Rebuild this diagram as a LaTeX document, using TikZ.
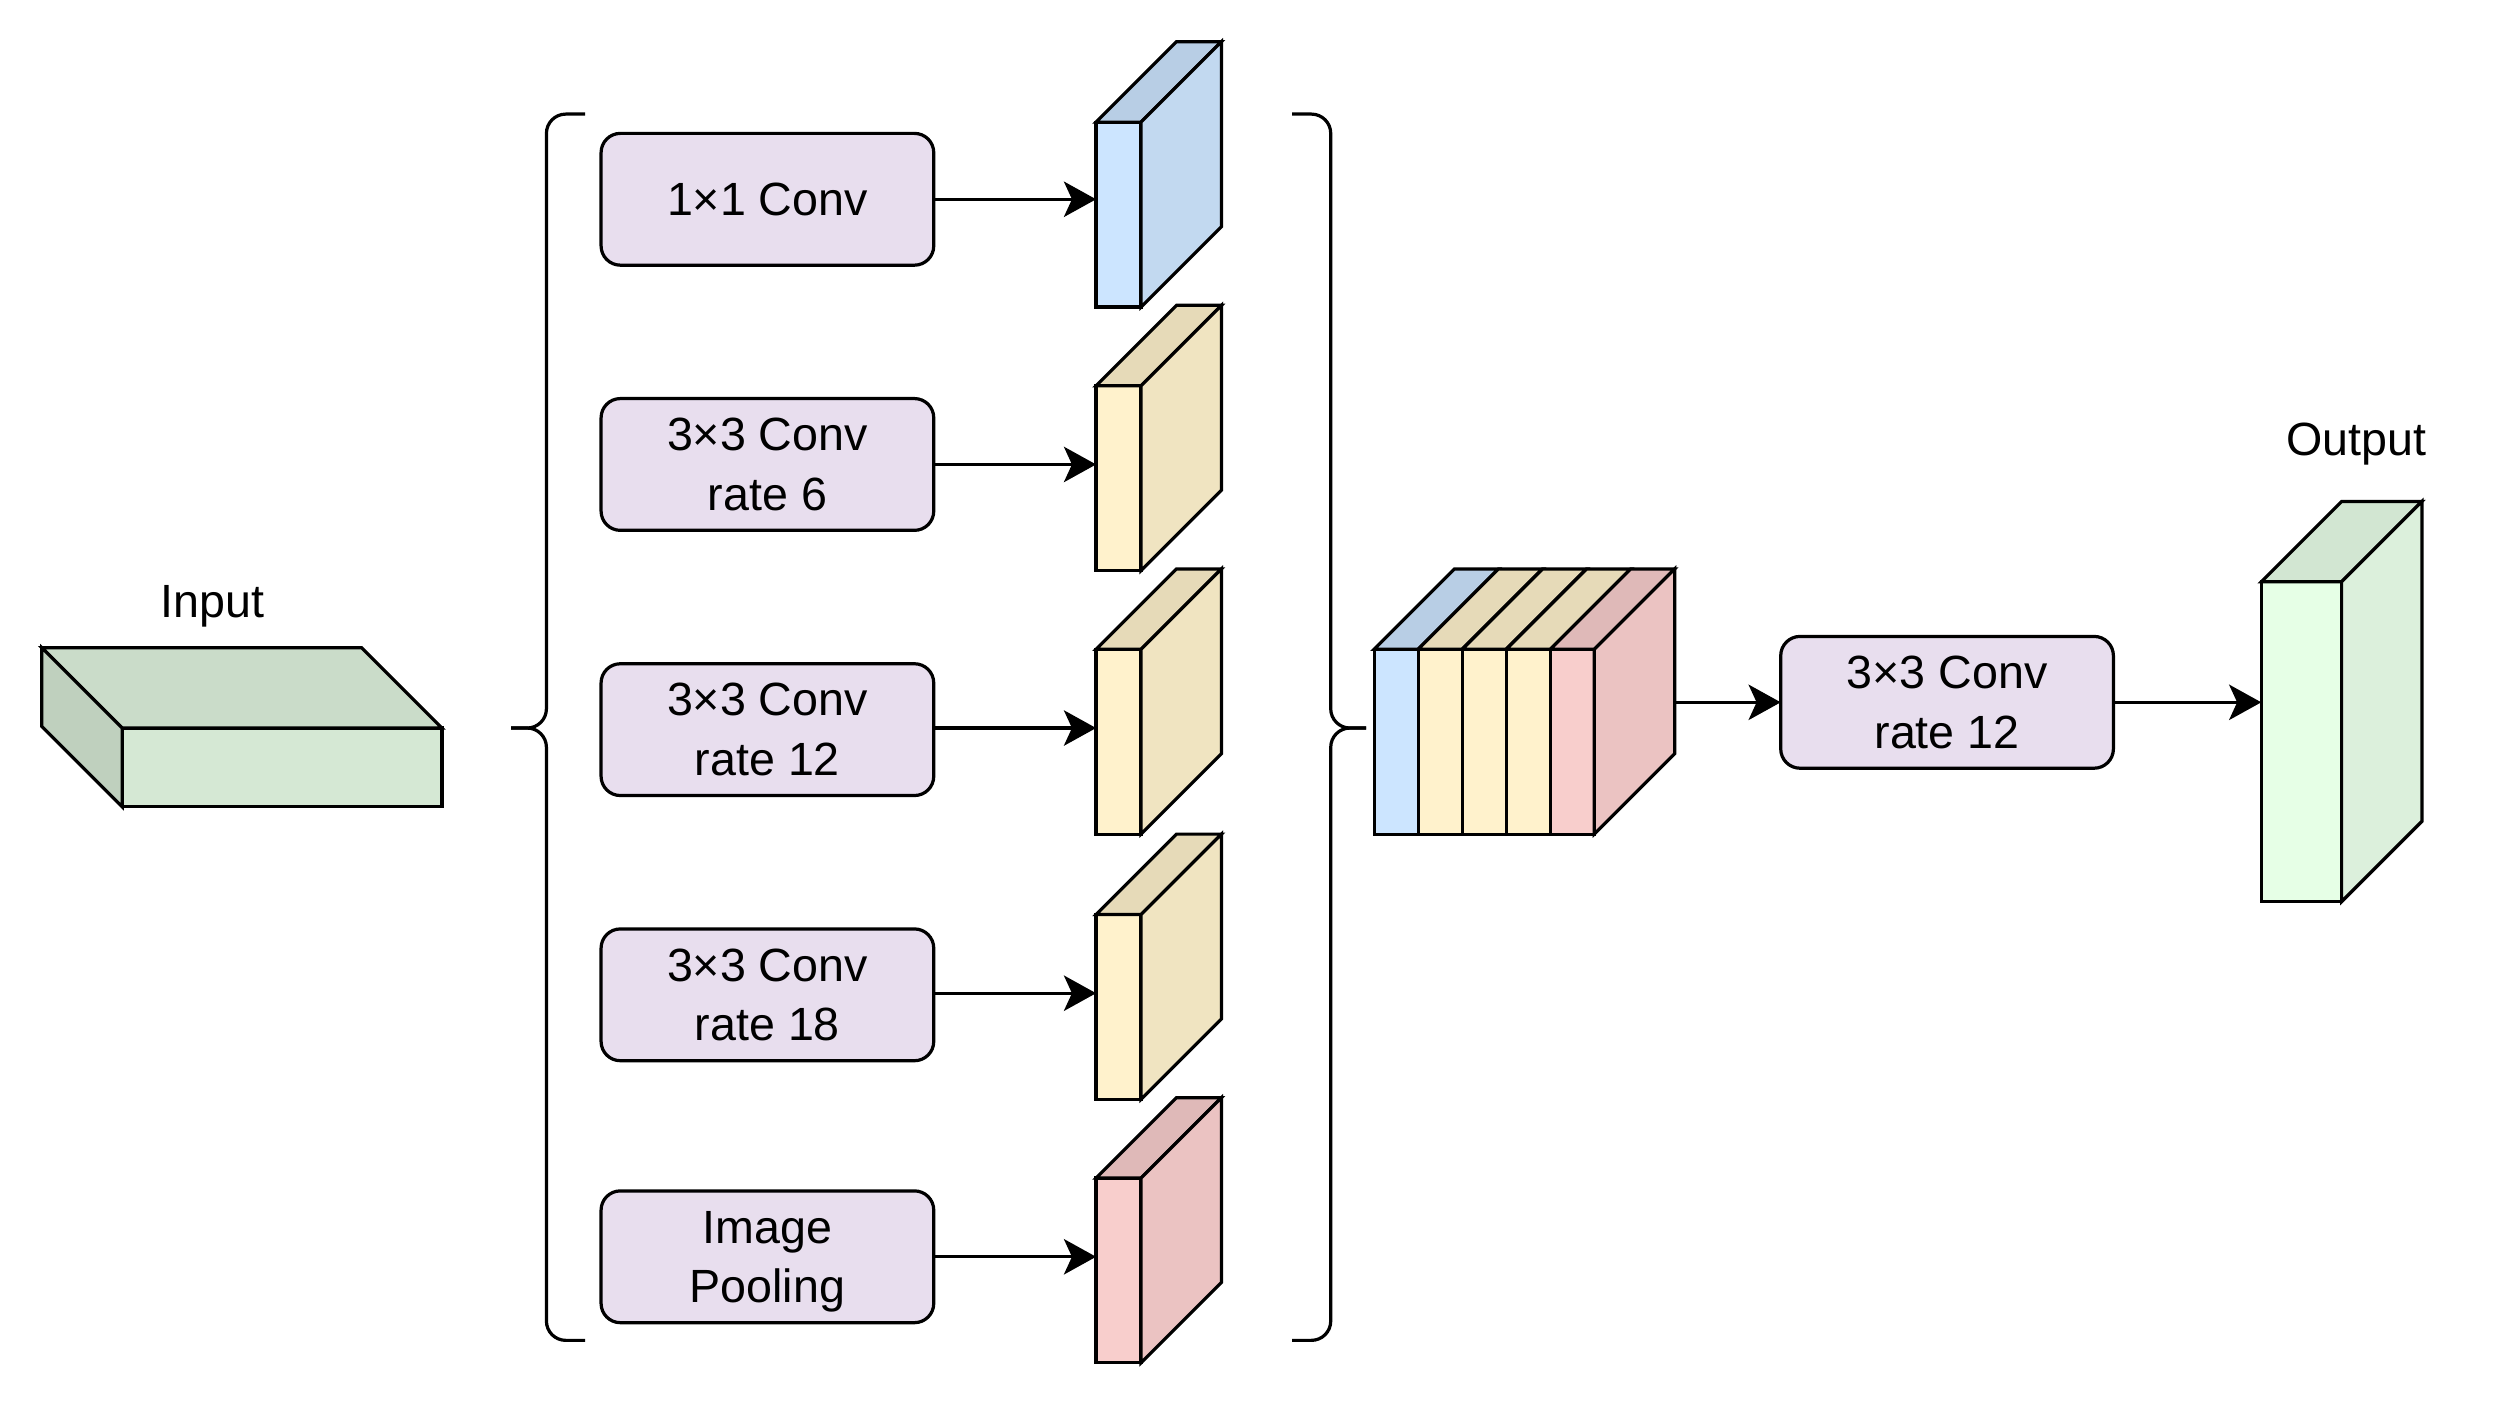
\documentclass[tikz,border=0pt]{standalone}
\usepackage{fontspec}
\setmainfont{Liberation Sans}
\usetikzlibrary{arrows.meta}

\definecolor{boxfill}{RGB}{232,222,238}
\definecolor{blueF}{RGB}{204,229,255}
\definecolor{blueT}{RGB}{184,206,229}
\definecolor{blueS}{RGB}{194,217,240}
\definecolor{yelF}{RGB}{255,242,204}
\definecolor{yelT}{RGB}{230,218,184}
\definecolor{yelS}{RGB}{240,228,193}
\definecolor{pinkF}{RGB}{248,206,204}
\definecolor{pinkT}{RGB}{223,185,184}
\definecolor{pinkS}{RGB}{235,195,194}
\definecolor{grnF}{RGB}{213,232,212}
\definecolor{grnT}{RGB}{202,220,201}
\definecolor{grnS}{RGB}{191,208,190}
\definecolor{outF}{RGB}{230,255,230}
\definecolor{outT}{RGB}{210,230,210}
\definecolor{outS}{RGB}{220,240,220}

\tikzset{
  face/.style={draw=black, line width=2pt, line join=miter, inner sep=0pt, outer sep=0pt},
  conv/.style={draw=black, line width=2pt, rounded corners=12pt, fill=boxfill,
    minimum width=207pt, minimum height=82pt, inner sep=0pt, outer sep=0pt, align=center,
    font=\fontsize{29}{37}\selectfont},
  lbl/.style={inner sep=0pt, font=\fontsize{29}{37}\selectfont},
  arr/.style={line width=2pt, -{Stealth[length=20pt, width=22pt, inset=5pt]}},
  bracestyle/.style={line width=2pt, rounded corners=12pt},
}

\newcommand{\slabbox}[6]{%
  \node[face, fill=#6F, minimum width=#4pt, minimum height=#5pt, anchor=north west] (#1) at (#2,#3) {};
  \draw[face, fill=#6T] (#1.north west) -- ++(50,-50) -- ++(#4,0) -- (#1.north east) -- cycle;
  \draw[face, fill=#6S] (#1.north east) -- ++(50,-50) -- ++(0,#5) -- (#1.south east) -- cycle;
}

\begin{document}
\begin{tikzpicture}[x=1pt,y=-1pt]
\useasboundingbox (0,0) rectangle (1568,874);

% Input block
\node[face, fill=grnF, minimum width=199pt, minimum height=49pt, anchor=north west] (in) at (76,453) {};
\draw[face, fill=grnT] (in.north west) -- ++(-50,-50) -- ++(199,0) -- (in.north east) -- cycle;
\draw[face, fill=grnS] (in.north west) -- ++(-50,-50) -- ++(0,49) -- (in.south west) -- cycle;
\node[lbl] (inlbl) at (132,377) {Input};

% Braces
\draw[bracestyle] (364,71) -- (340,71) -- (340,453) -- (318,453);
\draw[bracestyle] (318,453) -- (340,453) -- (340,834) -- (364,834);
\draw[bracestyle] (804,71) -- (828,71) -- (828,453) -- (850,453);
\draw[bracestyle] (850,453) -- (828,453) -- (828,834) -- (804,834);

% Branch boxes
\node[conv] (b1) at (477.5,124) {1×1 Conv};
\node[conv] (b2) at (477.5,289) {3×3 Conv\\rate 6};
\node[conv] (b3) at (477.5,454) {3×3 Conv\\rate 12};
\node[conv] (b4) at (477.5,619) {3×3 Conv\\rate 18};
\node[conv] (b5) at (477.5,782) {Image\\\smash{Pooling}};

% Branch slabs
\slabbox{s1}{682}{76}{28}{115}{blue}
\slabbox{s2}{682}{240}{28}{115}{yel}
\slabbox{s3}{682}{404}{28}{115}{yel}
\slabbox{s4}{682}{569}{28}{115}{yel}
\slabbox{s5}{682}{733}{28}{115}{pink}

\draw[arr] (b1.east) -- (b1.east -| s1.west);
\draw[arr] (b2.east) -- (b2.east -| s2.west);
\draw[arr] ([yshift=1pt]b3.east) -- ([yshift=1pt]b3.east -| s3.west);
\draw[arr] ([yshift=1pt]b4.east) -- ([yshift=1pt]b4.east -| s4.west);
\draw[arr] (b5.east) -- (b5.east -| s5.west);

% Concatenated block
\foreach \i/\cf/\ct in {0/blueF/blueT,1/yelF/yelT,2/yelF/yelT,3/yelF/yelT,4/pinkF/pinkT}{
  \node[face, fill=\cf, minimum width=27.4pt, minimum height=115pt, anchor=north west] (c\i) at ({855+27.4*\i},404) {};
  \draw[face, fill=\ct] (c\i.north west) -- ++(50,-50) -- ++(27.4,0) -- (c\i.north east) -- cycle;
}
\draw[face, fill=pinkS] (c4.north east) -- ++(50,-50) -- ++(0,115) -- (c4.south east) -- cycle;
\coordinate (catR) at (1042,437);

% Final conv and output
\node[conv] (b6) at (1211.5,437) {3×3 Conv\\rate 12};
\slabbox{out}{1407}{362}{50}{199}{out}
\node[lbl] (outlbl) at (1466,276) {Output};

\draw[arr] (catR) -- (b6.west);
\draw[arr] (b6.east) -- (b6.east -| out.west);
\end{tikzpicture}
\end{document}
